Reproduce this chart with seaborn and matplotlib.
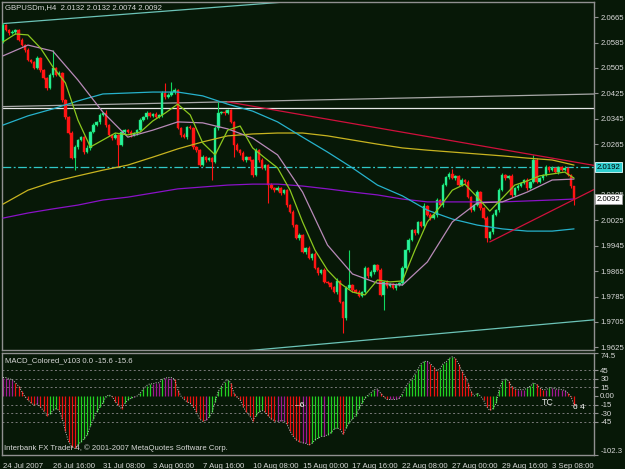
import matplotlib
matplotlib.use("Agg")
import matplotlib.pyplot as plt
import seaborn as sns
import numpy as np

# GBPUSDm H4, 24 Jul 2007 00:00 .. 4 Sep 2007 12:00 (184 bars)
closes = [
    2.0640, 2.0624, 2.0615, 2.0618, 2.0624, 2.0593, 2.0577, 2.0561, 2.0530, 2.0524,
    2.0505, 2.0536, 2.0498, 2.0473, 2.0442, 2.0483, 2.0505, 2.0483, 2.0489, 2.0404,
    2.0350, 2.0300, 2.0221, 2.0256, 2.0278, 2.0287, 2.0240, 2.0253, 2.0303, 2.0325,
    2.0335, 2.0357, 2.0363, 2.0325, 2.0294, 2.0284, 2.0294, 2.0262, 2.0303, 2.0309,
    2.0303, 2.0294, 2.0300, 2.0309, 2.0341, 2.0350, 2.0363, 2.0354, 2.0360, 2.0350,
    2.0357, 2.0426, 2.0413, 2.0420, 2.0429, 2.0435, 2.0316, 2.0294, 2.0287, 2.0319,
    2.0316, 2.0256, 2.0246, 2.0199, 2.0224, 2.0215, 2.0221, 2.0209, 2.0316, 2.0363,
    2.0366, 2.0363, 2.0372, 2.0335, 2.0262, 2.0246, 2.0237, 2.0215, 2.0224, 2.0215,
    2.0168, 2.0246, 2.0215, 2.0190, 2.0199, 2.0136, 2.0127, 2.0120, 2.0127, 2.0111,
    2.0120, 2.0073, 2.0051, 2.0010, 1.9969, 1.9979, 1.9925, 1.9938, 1.9906, 1.9919,
    1.9875, 1.9859, 1.9868, 1.9831, 1.9827, 1.9815, 1.9799, 1.9834, 1.9768, 1.9717,
    1.9812, 1.9821, 1.9805, 1.9799, 1.9787, 1.9799, 1.9875, 1.9850, 1.9862, 1.9884,
    1.9868, 1.9790, 1.9831, 1.9818, 1.9824, 1.9812, 1.9821, 1.9827, 1.9875, 1.9931,
    1.9963, 1.9994, 1.9985, 2.0020, 2.0007, 2.0070, 2.0042, 2.0032, 2.0042, 2.0089,
    2.0073, 2.0136, 2.0161, 2.0171, 2.0158, 2.0165, 2.0136, 2.0152, 2.0146, 2.0098,
    2.0057, 2.0073, 2.0114, 2.0064, 2.0032, 1.9969, 1.9988, 2.0042, 2.0057, 2.0120,
    2.0168, 2.0158, 2.0165, 2.0105, 2.0127, 2.0133, 2.0142, 2.0152, 2.0127, 2.0146,
    2.0215, 2.0146, 2.0158, 2.0168, 2.0193, 2.0183, 2.0190, 2.0177, 2.0193, 2.0183,
    2.0190, 2.0168, 2.0132, 2.0092,
]
opens = [
    2.0590, 2.0640, 2.0624, 2.0615, 2.0618, 2.0624, 2.0593, 2.0577, 2.0561, 2.0530,
    2.0524, 2.0505, 2.0536, 2.0498, 2.0473, 2.0442, 2.0483, 2.0505, 2.0483, 2.0489,
    2.0404, 2.0350, 2.0300, 2.0221, 2.0256, 2.0278, 2.0287, 2.0240, 2.0253, 2.0303,
    2.0325, 2.0335, 2.0357, 2.0363, 2.0325, 2.0294, 2.0284, 2.0294, 2.0262, 2.0303,
    2.0309, 2.0303, 2.0294, 2.0300, 2.0309, 2.0341, 2.0350, 2.0363, 2.0354, 2.0360,
    2.0350, 2.0357, 2.0426, 2.0413, 2.0420, 2.0429, 2.0435, 2.0316, 2.0294, 2.0287,
    2.0319, 2.0316, 2.0256, 2.0246, 2.0199, 2.0224, 2.0215, 2.0221, 2.0209, 2.0316,
    2.0363, 2.0366, 2.0363, 2.0372, 2.0335, 2.0262, 2.0246, 2.0237, 2.0215, 2.0224,
    2.0215, 2.0168, 2.0246, 2.0215, 2.0190, 2.0199, 2.0136, 2.0127, 2.0120, 2.0127,
    2.0111, 2.0120, 2.0073, 2.0051, 2.0010, 1.9969, 1.9979, 1.9925, 1.9938, 1.9906,
    1.9919, 1.9875, 1.9859, 1.9868, 1.9831, 1.9827, 1.9815, 1.9799, 1.9834, 1.9768,
    1.9717, 1.9812, 1.9821, 1.9805, 1.9799, 1.9787, 1.9799, 1.9875, 1.9850, 1.9862,
    1.9884, 1.9868, 1.9790, 1.9831, 1.9818, 1.9824, 1.9812, 1.9821, 1.9827, 1.9875,
    1.9931, 1.9963, 1.9994, 1.9985, 2.0020, 2.0007, 2.0070, 2.0042, 2.0032, 2.0042,
    2.0089, 2.0073, 2.0136, 2.0161, 2.0171, 2.0158, 2.0165, 2.0136, 2.0152, 2.0146,
    2.0098, 2.0057, 2.0073, 2.0114, 2.0064, 2.0032, 1.9969, 1.9988, 2.0042, 2.0057,
    2.0120, 2.0168, 2.0158, 2.0165, 2.0105, 2.0127, 2.0133, 2.0142, 2.0152, 2.0127,
    2.0146, 2.0215, 2.0146, 2.0158, 2.0168, 2.0193, 2.0183, 2.0190, 2.0177, 2.0193,
    2.0183, 2.0190, 2.0168, 2.0132,
]
# wick lengths in pips above / below the body
up_wick = [
    6, 4, 3, 5, 4, 3, 5, 4, 6, 3, 4, 8, 3, 5, 4, 6, 56, 4, 5, 3,
    4, 3, 5, 6, 4, 3, 5, 8, 4, 6, 3, 5, 4, 9, 3, 4, 5, 3, 6, 4,
    3, 5, 4, 3, 6, 4, 5, 3, 4, 5, 3, 7, 32, 5, 32, 6, 4, 3, 5, 4,
    6, 3, 4, 5, 8, 3, 4, 5, 6, 35, 4, 6, 5, 3, 4, 5, 3, 6, 4, 5,
    3, 6, 4, 5, 3, 4, 6, 3, 5, 4, 3, 5, 4, 6, 3, 5, 4, 3, 6, 4,
    5, 3, 4, 6, 3, 5, 4, 8, 3, 4, 6, 110, 4, 3, 5, 4, 6, 3, 5, 4,
    3, 6, 4, 5, 3, 4, 6, 3, 5, 4, 6, 3, 5, 4, 3, 8, 4, 5, 3, 6,
    4, 5, 3, 6, 16, 4, 3, 5, 4, 6, 3, 4, 5, 3, 4, 6, 3, 5, 4, 6,
    5, 3, 4, 6, 3, 5, 4, 3, 6, 4, 16, 5, 3, 4, 6, 3, 5, 4, 3, 4,
    5, 3, 2, 0,
]
down_wick = [
    5, 4, 6, 3, 5, 4, 3, 6, 4, 5, 3, 4, 6, 3, 8, 4, 5, 3, 4, 6,
    5, 4, 3, 38, 5, 4, 6, 3, 5, 4, 3, 6, 4, 5, 3, 6, 4, 69, 3, 5,
    4, 6, 3, 5, 4, 3, 6, 4, 5, 3, 4, 6, 5, 3, 4, 6, 4, 5, 3, 6,
    4, 5, 6, 3, 4, 5, 3, 57, 4, 5, 3, 6, 4, 5, 38, 4, 6, 3, 5, 4,
    8, 4, 5, 3, 6, 56, 4, 5, 3, 6, 4, 5, 3, 6, 4, 5, 3, 6, 4, 5,
    3, 6, 4, 5, 3, 6, 4, 5, 3, 47, 5, 4, 6, 3, 5, 4, 3, 6, 4, 5,
    4, 3, 48, 5, 4, 3, 6, 4, 5, 3, 6, 4, 5, 3, 4, 6, 3, 5, 4, 6,
    3, 5, 4, 6, 3, 5, 4, 3, 6, 4, 5, 3, 4, 6, 3, 12, 4, 5, 3, 6,
    4, 5, 3, 6, 4, 5, 3, 4, 6, 3, 5, 4, 3, 6, 4, 5, 3, 4, 6, 3,
    4, 3, 4, 18,
]

# moving averages, sampled every 8 bars (slow) / 4 bars (fast)
slow_idx = list(range(0, 184, 8)) + [183]
ma_yellow = [2.0076, 2.0120, 2.0146, 2.0165, 2.0183, 2.0199, 2.0224, 2.0250, 2.0272, 2.0291,
             2.0297, 2.0300, 2.0300, 2.0291, 2.0278, 2.0265, 2.0253, 2.0246, 2.0240, 2.0234,
             2.0228, 2.0221, 2.0215, 2.0199]
ma_purple = [2.0032, 2.0048, 2.0061, 2.0073, 2.0089, 2.0098, 2.0111, 2.0124, 2.0130, 2.0136,
             2.0139, 2.0139, 2.0133, 2.0124, 2.0114, 2.0105, 2.0092, 2.0083, 2.0083, 2.0083,
             2.0083, 2.0086, 2.0089, 2.0092]
ma_cyan = [2.0325, 2.0354, 2.0376, 2.0401, 2.0423, 2.0426, 2.0429, 2.0429, 2.0417, 2.0391,
           2.0369, 2.0335, 2.0287, 2.0240, 2.0190, 2.0136, 2.0102, 2.0057, 2.0029, 2.0010,
           1.9998, 1.9991, 1.9991, 1.9998]
ma_pink = [2.0543, 2.0577, 2.0558, 2.0467, 2.0366, 2.0287, 2.0309, 2.0335, 2.0332, 2.0313,
           2.0284, 2.0231, 2.0114, 1.9947, 1.9856, 1.9827, 1.9821, 1.9894, 2.0020, 2.0080,
           2.0083, 2.0114, 2.0152, 2.0155]
fast_idx = list(range(0, 184, 4)) + [183]
ma_fast = [2.0587, 2.0612, 2.0609, 2.0568, 2.0508, 2.0458, 2.0341, 2.0256, 2.0278, 2.0300,
           2.0294, 2.0303, 2.0338, 2.0363, 2.0391, 2.0357, 2.0269, 2.0231, 2.0309, 2.0322,
           2.0253, 2.0221, 2.0190, 2.0120, 2.0020, 1.9931, 1.9868, 1.9827, 1.9799, 1.9790,
           1.9837, 1.9831, 1.9834, 1.9931, 2.0020, 2.0067, 2.0120, 2.0139, 2.0098, 2.0054,
           2.0095, 2.0136, 2.0149, 2.0165, 2.0171, 2.0177, 2.0158]

# drawn objects (bar index, price)
chan_top_idx, chan_top_val = [-1, 100], [2.0644, 2.0720]
chan_bot_idx, chan_bot_val = [70, 190], [1.9607, 1.9712]
resist_idx, resist_val = [72, 190], [2.0398, 2.0197]
support_idx, support_val = [156, 190], [1.9957, 2.0125]
gray_idx, gray_val = [-1, 190], [2.0383, 2.0423]
white_level = 2.0380
cyan_level = 2.0192

# MACD_Colored histogram
macd = [
    32, 32, 30, 28, 23, 17, 8, -1, -7, -12, -16, -14, -19, -26, -34, -31, -25, -22, -25, -40,
    -61, -79, -88, -91, -85, -79, -74, -67, -52, -40, -28, -19, -12, -1, 2, -1, -10, -16, -22, -13,
    -7, -4, -2, 0, 5, 12, 18, 21, 21, 23, 23, 29, 31, 32, 32, 29, 11, 0, -6, -10,
    -13, -19, -28, -40, -44, -42, -37, -28, -10, 8, 17, 25, 28, 23, 5, -2, -7, -19, -28, -34,
    -43, -34, -28, -25, -28, -34, -40, -43, -44, -43, -43, -49, -61, -70, -76, -79, -81, -82, -85, -82,
    -76, -73, -70, -70, -67, -64, -58, -55, -58, -66, -55, -46, -40, -34, -22, -13, -4, 2, 6, 11,
    12, 5, -1, -6, -6, -6, -6, -4, 4, 16, 23, 29, 38, 47, 56, 60, 60, 56, 50, 44,
    47, 56, 59, 65, 68, 65, 56, 44, 35, 23, 8, 0, 5, 0, -7, -19, -25, -22, -13, 11,
    26, 30, 26, 17, 12, 11, 11, 11, 14, 17, 23, 20, 14, 11, 11, 14, 14, 12, 12, 11,
    10, 5, -1, -15.6,
]

price_ticks = [2.0665, 2.0585, 2.0505, 2.0425, 2.0345, 2.0265, 2.0185, 2.0105,
               2.0025, 1.9945, 1.9865, 1.9785, 1.9705, 1.9625]
# 2.0185 sits completely under the 2.0192 marker in the original
price_tick_labels = ["2.0665", "2.0585", "2.0505", "2.0425", "2.0345", "2.0265", "",
                     "2.0105", "2.0025", "1.9945", "1.9865", "1.9785", "1.9705", "1.9625"]
macd_ticks = [74.5, 45, 30, 15, 0, -15, -30, -45, -102.3]
macd_tick_labels = ["74.5", "45", "30", "15", "0.00", "-15", "-30", "-45", "-102.3"]
macd_levels = [45, 30, 15, -15, -30, -45]
date_idx = list(range(0, 184, 16))
date_labels = ["24 Jul 2007", "26 Jul 16:00", "31 Jul 08:00", "3 Aug 00:00",
               "7 Aug 16:00", "10 Aug 08:00", "15 Aug 00:00", "17 Aug 16:00",
               "22 Aug 08:00", "27 Aug 00:00", "29 Aug 16:00", "3 Sep 08:00"]

sns.set_theme(style="dark")
plt.rcParams["font.family"] = ["Liberation Sans", "DejaVu Sans"]

bg = "#071807"
txt = "#d8d8d8"
frame = "#909090"
fs = 5.6

fig = plt.figure(figsize=(6.25, 4.69), dpi=100, facecolor=bg)
W, H = 625, 469
ax = fig.add_axes([2 / W, 1 - 350 / H, 592 / W, 348 / H], facecolor=bg)
ax2 = fig.add_axes([2 / W, 1 - 455 / H, 592 / W, 102 / H], facecolor=bg)

idx = np.arange(len(closes))
o = np.array(opens)
c = np.array(closes)
top = np.maximum(o, c)
bot = np.minimum(o, c)
highs = top + np.array(up_wick) / 10000
lows = bot - np.array(down_wick) / 10000
bull = c >= o

# candles
ax.vlines(idx, lows, highs, colors=np.where(bull, "#10d860", "#ff1414"), lw=0.8, zorder=3)
ax.bar(idx, np.maximum(top - bot, 0.00008), bottom=bot, width=0.78,
       color=np.where(bull, "#2af0a0", "#ff1414"),
       edgecolor=np.where(bull, "#10e060", "#ff1414"), linewidth=0.3, zorder=4)

# moving averages
for xs, ys, col in [(slow_idx, ma_purple, "#8a12c8"), (slow_idx, ma_yellow, "#c8b420"),
                    (slow_idx, ma_cyan, "#26b2cc"), (slow_idx, ma_pink, "#b88ab8"),
                    (fast_idx, ma_fast, "#8cc81e")]:
    sns.lineplot(x=xs, y=ys, ax=ax, color=col, lw=0.9, sort=False, legend=False, zorder=5)

# objects
ax.axhline(white_level, color="#e6e6e6", lw=0.9, zorder=2)
sns.lineplot(x=gray_idx, y=gray_val, ax=ax, color="#a8a8a8", lw=0.9, zorder=2)
sns.lineplot(x=chan_top_idx, y=chan_top_val, ax=ax, color="#6cc4b8", lw=0.9, zorder=2)
sns.lineplot(x=chan_bot_idx, y=chan_bot_val, ax=ax, color="#6cc4b8", lw=0.9, zorder=2)
sns.lineplot(x=resist_idx, y=resist_val, ax=ax, color="#d0103c", lw=0.9, zorder=6)
sns.lineplot(x=support_idx, y=support_val, ax=ax, color="#d0103c", lw=0.9, zorder=6)
ax.axhline(cyan_level, color="#30c8c8", lw=0.9, ls=(0, (7, 2, 1.5, 2)), zorder=2)

ax.set_xlim(-0.32, 189.4)
ax.set_ylim(1.96165, 2.07127)
ax.set_xticks([])
ax.yaxis.tick_right()
ax.set_yticks(price_ticks)
ax.set_yticklabels(price_tick_labels)
ax.tick_params(axis="y", colors=frame, labelcolor=txt, labelsize=fs, length=3,
               width=0.8, direction="out", pad=1.5)
ax.set_xlabel("")
ax.set_ylabel("")
for s in ax.spines.values():
    s.set_color(frame)
    s.set_linewidth(1)
    s.set_visible(True)

box = dict(boxstyle="square,pad=0.18", lw=0.6)
ax.text(1.004, cyan_level, f"{cyan_level:.4f}", transform=ax.get_yaxis_transform(),
        ha="left", va="center", fontsize=fs, color="#000000", zorder=10, clip_on=False,
        bbox=dict(box, fc="#30d0d0", ec="#e0ffff"))
ax.text(1.004, closes[-1], f"{closes[-1]:.4f}", transform=ax.get_yaxis_transform(),
        ha="left", va="center", fontsize=fs, color="#000000", zorder=10, clip_on=False,
        bbox=dict(box, fc="#ffffff", ec="#a0a0a0"))

# MACD panel
m = np.array(macd)
dm = np.diff(m, prepend=m[0] - 1)
bar_cols = np.where(np.abs(dm) < 2.5, "#a01890", np.where(dm > 0, "#22d022", "#ee1010"))
for lv in macd_levels:
    ax2.axhline(lv, color="#7a7a7a", lw=0.7, ls=(0, (2, 2.5)), zorder=1)
ax2.vlines(idx, 0, m, colors=bar_cols, lw=0.9, zorder=2)
sns.lineplot(x=idx, y=m, ax=ax2, color="#c0c0c0", lw=0.7, ls=(0, (1, 1.5)), zorder=3)

ax2.set_xlim(-0.32, 189.4)
ax2.set_ylim(-102.3, 74.5)
ax2.yaxis.tick_right()
ax2.set_yticks(macd_ticks)
ax2.set_yticklabels(macd_tick_labels)
ax2.set_xticks(date_idx)
ax2.set_xticklabels(date_labels)
ax2.tick_params(axis="both", colors=frame, labelcolor=txt, labelsize=fs, length=3,
                width=0.8, direction="out", pad=1.5)
ax2.tick_params(axis="x", length=4, pad=1.5)
for lab in ax2.get_xticklabels():
    lab.set_ha("left")
ylabs = ax2.get_yticklabels()
ylabs[0].set_va("top")
ylabs[-1].set_va("bottom")
ax2.set_xlabel("")
ax2.set_ylabel("")
for s in ax2.spines.values():
    s.set_color(frame)
    s.set_linewidth(1)
    s.set_visible(True)

ax2.text(95, -16, "\u20136", ha="center", va="center", fontsize=fs + 0.5, color="#ffffff")
ax2.text(174.5, -11, "TC", ha="center", va="center", fontsize=fs + 0.8, color="#e8e8e8")
ax2.text(184.5, -20, "6 4", ha="center", va="center", fontsize=fs + 0.5, color="#ffffff")

fig.text(5 / W, 1 - 8 / H, "GBPUSDm,H4  2.0132 2.0132 2.0074 2.0092", fontsize=fs,
         color=txt, va="center", ha="left")
fig.text(5 / W, 1 - 361 / H, "MACD_Colored_v103 0.0 -15.6 -15.6", fontsize=fs,
         color=txt, va="center", ha="left")
fig.text(4 / W, 1 - 448 / H, "Interbank FX Trader 4, \u00a9 2001-2007 MetaQuotes Software Corp.",
         fontsize=fs, color=txt, va="center", ha="left")

fig.savefig("out.png", dpi=100, facecolor=bg)
